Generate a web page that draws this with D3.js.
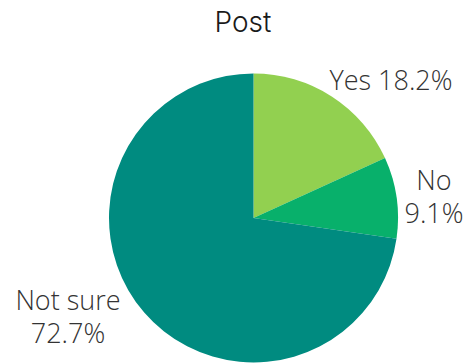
<!DOCTYPE html>
<html>
<head>
<meta charset="utf-8">
<script src="https://cdn.jsdelivr.net/npm/d3@7"></script>
<style>
  html, body { margin: 0; padding: 0; background: #fff; }
  svg { display: block; }
</style>
</head>
<body>
<svg id="chart" width="472" height="363"></svg>
<script>
// Survey responses
const categories = ["Yes", "No", "Not sure"];
const values = [18.2, 9.1, 72.7];
const colors = ["#92d050", "#08b06b", "#008b80"];
// Label lines for each slice
const labelLines = [["Yes 18.2%"], ["No", "9.1%"], ["Not sure", "72.7%"]];

const svg = d3.select("#chart");
const cx = 253.5, cy = 218, radius = 144.5;

const data = categories.map((c, i) => ({ category: c, value: values[i], color: colors[i], lines: labelLines[i] }));

const pie = d3.pie().value(d => d.value).sort(null);
const arc = d3.arc().innerRadius(0).outerRadius(radius);

const g = svg.append("g").attr("transform", `translate(${cx},${cy})`);
const arcs = pie(data);

g.selectAll("path")
  .data(arcs)
  .join("path")
  .attr("d", arc)
  .attr("fill", d => d.data.color);

// Title
svg.append("text")
  .attr("x", 243)
  .attr("y", 32)
  .attr("text-anchor", "middle")
  .attr("font-family", "Inter, sans-serif")
  .attr("font-weight", 300)
  .attr("font-size", 28)
  .attr("fill", "#1a1a1a")
  .text("Post");

// Outside labels
const labelPos = [
  { x: 391, y: 90 },
  { x: 434, y: 190 },
  { x: 68, y: 310 }
];
const lineGap = 32.5;

svg.append("g")
  .selectAll("text")
  .data(arcs)
  .join("text")
  .attr("x", (d, i) => labelPos[i].x)
  .attr("y", (d, i) => labelPos[i].y)
  .attr("text-anchor", "middle")
  .attr("font-family", "'Open Sans', sans-serif")
  .attr("font-weight", 300)
  .attr("font-size", 27)
  .attr("fill", "#333")
  .each(function (d, i) {
    d3.select(this).selectAll("tspan")
      .data(d.data.lines)
      .join("tspan")
      .attr("x", labelPos[i].x)
      .attr("dy", (t, j) => j === 0 ? 0 : lineGap)
      .text(t => t);
  });
</script>
</body>
</html>
